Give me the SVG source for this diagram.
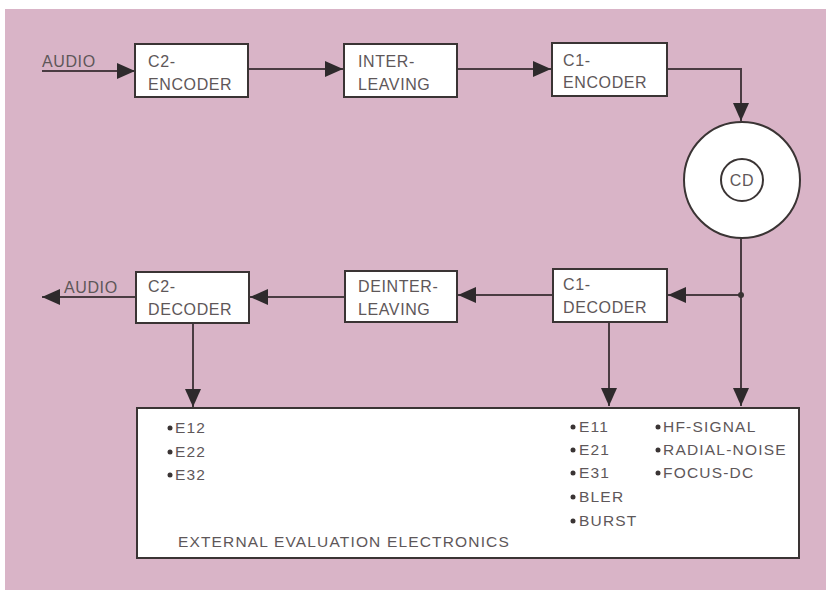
<svg xmlns="http://www.w3.org/2000/svg" width="826" height="590" viewBox="0 0 826 590">
<defs>
<style>
.bg{fill:#d9b4c7}
.box{fill:#ffffff;stroke:#3a3434;stroke-width:2}
.ln{fill:none;stroke:#4a3c42;stroke-width:2}
.t{font-family:"Liberation Sans",Arial,sans-serif;font-size:16px;fill:#5e5759;letter-spacing:0.6px}
.s{font-family:"Liberation Sans",Arial,sans-serif;font-size:15.5px;fill:#5e5759;letter-spacing:1.2px}
.dot{fill:#3a3434}
</style>
<marker id="ah" viewBox="0 0 18 16" refX="18" refY="8" markerWidth="18" markerHeight="16" markerUnits="userSpaceOnUse" orient="auto">
<path d="M0,0 L18,8 L0,16 Z" fill="#2e2a2c"/>
</marker>
</defs>
<rect x="0" y="0" width="826" height="590" fill="#ffffff"/>
<rect class="bg" x="5" y="9" width="821" height="581"/>

<g id="connectors">
<path class="ln" d="M42,71 L135,71" marker-end="url(#ah)"/>
<path class="ln" d="M248,69 L343,69" marker-end="url(#ah)"/>
<path class="ln" d="M457,69 L551,69" marker-end="url(#ah)"/>
<path class="ln" d="M667,69 L741,69 L741,121" marker-end="url(#ah)"/>
<path class="ln" d="M741,238 L741,406" marker-end="url(#ah)"/>
<path class="ln" d="M741,295 L668,295" marker-end="url(#ah)"/>
<circle class="dot" cx="741" cy="295" r="3"/>
<path class="ln" d="M553,295 L458,295" marker-end="url(#ah)"/>
<path class="ln" d="M345,297 L250,297" marker-end="url(#ah)"/>
<path class="ln" d="M136,297 L42,297" marker-end="url(#ah)"/>
<path class="ln" d="M193,323 L193,407" marker-end="url(#ah)"/>
<path class="ln" d="M609,322 L609,406" marker-end="url(#ah)"/>
</g>

<text class="t" x="42" y="67">AUDIO</text>
<text class="t" x="64" y="293">AUDIO</text>

<g id="c2-encoder">
<rect class="box" x="135" y="44" width="113" height="53"/>
<text class="t" x="148" y="67">C2-</text>
<text class="t" x="148" y="90">ENCODER</text>
</g>
<g id="interleaving">
<rect class="box" x="344" y="44" width="113" height="53"/>
<text class="t" x="358" y="67">INTER-</text>
<text class="t" x="358" y="90">LEAVING</text>
</g>
<g id="c1-encoder">
<rect class="box" x="552" y="43" width="115" height="53"/>
<text class="t" x="563" y="66">C1-</text>
<text class="t" x="563" y="88">ENCODER</text>
</g>
<g id="cd">
<circle cx="742" cy="180" r="58" fill="#ffffff" stroke="#3a3434" stroke-width="2"/>
<circle cx="742" cy="180" r="21" fill="#ffffff" stroke="#3a3434" stroke-width="2"/>
<text class="t" x="742" y="186" text-anchor="middle" letter-spacing="0">CD</text>
</g>
<g id="c1-decoder">
<rect class="box" x="553" y="269" width="114" height="53"/>
<text class="t" x="563" y="290">C1-</text>
<text class="t" x="563" y="313">DECODER</text>
</g>
<g id="deinterleaving">
<rect class="box" x="345" y="271" width="112" height="51"/>
<text class="t" x="358" y="292">DEINTER-</text>
<text class="t" x="358" y="315">LEAVING</text>
</g>
<g id="c2-decoder">
<rect class="box" x="136" y="272" width="113" height="51"/>
<text class="t" x="148" y="292">C2-</text>
<text class="t" x="148" y="315">DECODER</text>
</g>
<g id="external">
<rect class="box" x="137" y="408" width="662" height="150"/>
<g class="dot">
<circle cx="170" cy="428" r="2.5"/><circle cx="170" cy="452" r="2.5"/><circle cx="170" cy="475" r="2.5"/>
<circle cx="573" cy="427" r="2.5"/><circle cx="573" cy="450" r="2.5"/><circle cx="573" cy="473" r="2.5"/><circle cx="573" cy="497" r="2.5"/><circle cx="573" cy="521" r="2.5"/>
<circle cx="658" cy="427" r="2.5"/><circle cx="658" cy="450" r="2.5"/><circle cx="658" cy="473" r="2.5"/>
</g>
<text class="s" x="175" y="433">E12</text>
<text class="s" x="175" y="457">E22</text>
<text class="s" x="175" y="480">E32</text>
<text class="s" x="579" y="432">E11</text>
<text class="s" x="579" y="455">E21</text>
<text class="s" x="579" y="478">E31</text>
<text class="s" x="579" y="502">BLER</text>
<text class="s" x="579" y="526">BURST</text>
<text class="s" x="663" y="432">HF-SIGNAL</text>
<text class="s" x="663" y="455">RADIAL-NOISE</text>
<text class="s" x="663" y="478">FOCUS-DC</text>
<text class="s" x="178" y="547" textLength="332" lengthAdjust="spacing">EXTERNAL EVALUATION ELECTRONICS</text>
</g>
</svg>
